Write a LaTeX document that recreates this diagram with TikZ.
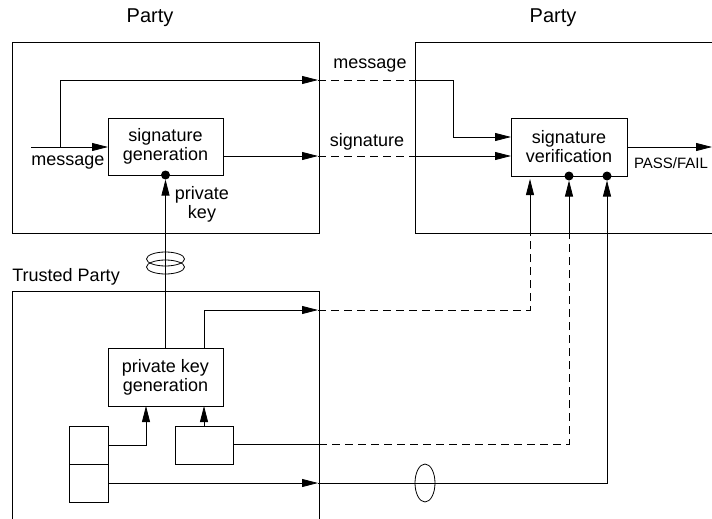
\documentclass[tikz,border=0pt]{standalone}
\usepackage{fontspec}
\setmainfont{Liberation Sans}
\usetikzlibrary{arrows.meta,calc}
\begin{document}
\begin{tikzpicture}[x=1pt,y=-1pt,
  line width=0.8pt,
  txt/.style={font=\fontsize{18}{19}\selectfont, inner sep=0pt, align=center},
  box/.style={draw, inner sep=0pt, outer sep=0pt, align=center, font=\fontsize{18}{19}\selectfont},
  arr/.style={-{Triangle[length=16pt,width=8pt]}},
  dsh/.style={dash pattern=on 8pt off 5pt},
  dotn/.style={circle, fill, inner sep=0pt, outer sep=0pt, minimum size=9pt}
]
\useasboundingbox (0,0) rectangle (712,519);

% party labels
\node[txt, font=\fontsize{20}{22}\selectfont] (p1) at (150,18) {Party};
\node[txt, font=\fontsize{20}{22}\selectfont] (p2) at (553,18) {Party};
\node[txt, anchor=west] (ltp) at (12,277) {Trusted Party};

% enclosures
\node[draw, inner sep=0pt, outer sep=0pt, minimum width=307pt, minimum height=191pt] (A) at (165.5,137.5) {};
\draw (712,42) -- (415,42) -- (415,233) -- (712,233);
\draw (12,519) -- (12,291) -- (319,291) -- (319,519);

% blocks
\node[box, minimum width=115pt, minimum height=57pt] (sg) at (165.5,146.5) {signature\\generation};
\node[box, minimum width=116pt, minimum height=58pt] (sv) at (569,147) {signature\\verification};
\node[box, minimum width=115pt, minimum height=58pt] (pkg) at (165.5,377) {private key\\generation};
\node[box, minimum width=58pt, minimum height=38pt] (sb) at (204,445) {};
\node[box, minimum width=39pt, minimum height=38pt] (ua) at (88.5,445) {};
\node[box, minimum width=39pt, minimum height=38pt] (la) at (88.5,483) {};

% dots
\node[dotn] (d1) at (165.5,175) {};
\node[dotn] (d2) at (569,176) {};
\node[dotn] (d3) at (607,176) {};

% message
\coordinate (inL) at (31,147);
\draw[arr] (inL) -- (inL -| sg.west);
\node[txt] (lm) at (68,163) {message};
\coordinate (br) at (60,147);
\coordinate (mL) at (318,80);
\coordinate (mR) at (415,80);
\draw[arr] (br) |- (mL);
\draw[dsh] (mL) -- (mR);
\draw[arr] (mR) -- (453,80) |- ($(sv.west)+(0,-10)$);
\node[txt] (lm2) at (370,66) {message};

% signature
\coordinate (sL) at (318,156);
\coordinate (sR) at (415,156);
\draw[arr] (sg.east |- sL) -- (sL);
\draw[dsh] (sL) -- (sR);
\draw[arr] (sR) -- (sR -| sv.west);
\node[txt] (ls) at (367,142) {signature};

% pass/fail
\coordinate (pf) at (712,147);
\draw[arr] (sv.east) -- (pf);
\node[txt, font=\fontsize{15}{17}\selectfont] (lpf) at (671,163) {PASS/FAIL};

% private key
\draw[arr] (pkg.north) -- (d1.south);
\node[txt] (lpk) at (202,204) {private\\key};
\draw (165.5,259) ellipse [x radius=19pt, y radius=7pt];
\draw (165.5,267) ellipse [x radius=19pt, y radius=7pt];

% public key path
\coordinate (kL) at (318,310);
\coordinate (kD) at (530,310);
\coordinate (kU) at (530,233);
\coordinate (kT) at (530,179);
\draw[arr] (sb.north |- pkg.north) |- (kL);
\draw[dsh] (kL) -- (kD) -- (kU);
\draw[arr] (kU) -- (kT);

% small box
\draw[arr] (sb.north) -- (sb.north |- pkg.south);
\coordinate (bL) at (319,444);
\coordinate (bD) at (569,444);
\coordinate (bU) at (569,233);
\draw (sb.east |- bL) -- (bL);
\draw[dsh] (bL) -- (bD) -- (bU);
\draw[arr] (bU) -- (d2.south);

% upper stack box
\draw[arr] (ua.east) -| (146,406);

% lower stack box
\coordinate (cL) at (318,483);
\coordinate (cR) at (607,483);
\draw[arr] (la.east) -- (cL);
\draw[arr] (cL) -- (cR) -- (d3.south);
\draw (425,483) ellipse [x radius=10pt, y radius=19pt];
\end{tikzpicture}
\end{document}
